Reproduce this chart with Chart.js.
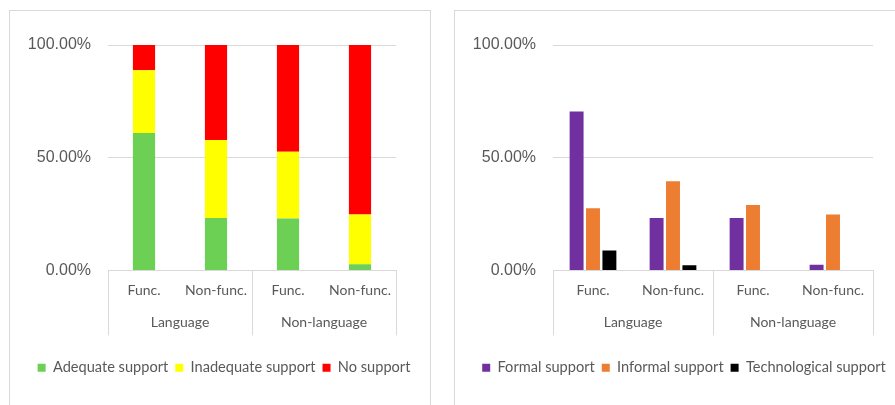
<!DOCTYPE html>
<html>
<head>
<meta charset="utf-8">
<script src="https://cdn.jsdelivr.net/npm/chart.js@4.4.1/dist/chart.umd.min.js"></script>
<style>
  html, body { margin: 0; padding: 0; background: #fff; width: 895px; height: 405px; overflow: hidden; }
  .box { position: absolute; top: 10px; height: 400px; border: 1px solid #d9d9d9; box-sizing: border-box; }
  .box canvas { position: absolute; left: 0; top: 0; }
</style>
</head>
<body>
<div class="box" style="left:9px; width:422px;"><canvas id="left" width="428" height="394"></canvas></div>
<div class="box" style="left:454px; width:460px;"><canvas id="right" width="458" height="394"></canvas></div>
<script>
// categories
const subLabels = ['Func.', 'Non-func.', 'Func.', 'Non-func.'];
const groupLabels = ['Language', 'Non-language'];
const yTicks = [0, 50, 100];

// left chart (stacked, %)
const adequate = [61.0, 23.3, 23.0, 2.7];
const inadequate = [27.8, 34.5, 29.6, 22.1];
const noSupport = [11.2, 42.2, 47.4, 75.2];

// right chart (clustered, %)
const formal = [70.5, 23.2, 23.2, 2.5];
const informal = [27.6, 39.5, 29.0, 24.8];
const technological = [8.8, 2.3, 0, 0];

const gridCol = '#d9d9d9';
const textCol = '#595959';
const catFont = { family: 'Lato', size: 14 };

function makeChart(id, datasets, stacked, rightWidth) {
  new Chart(document.getElementById(id), {
    type: 'bar',
    data: { labels: subLabels, datasets: datasets },
    options: {
      responsive: false,
      animation: false,
      layout: { padding: { left: 0, right: 0, top: 34, bottom: 20 } },
      plugins: {
        tooltip: { enabled: false },
        legend: {
          position: 'bottom',
          labels: { boxWidth: 8, boxHeight: 8, padding: 7, color: textCol, font: { family: 'Lato', size: 14.6 } }
        }
      },
      scales: {
        x: {
          stacked: stacked,
          offset: true,
          weight: 0,
          border: { display: true, color: gridCol },
          grid: {
            offset: true,
            drawOnChartArea: false,
            tickLength: 65,
            color: c => (c.index === 1 || c.index === 3) ? 'rgba(0,0,0,0)' : gridCol
          },
          ticks: { padding: -53, color: textCol, font: catFont, maxRotation: 0 },
          afterFit: s => { s.height = 32; }
        },
        x2: {
          type: 'category',
          axis: 'x',
          position: 'bottom',
          labels: groupLabels,
          offset: true,
          weight: 1,
          border: { display: false },
          grid: { display: false },
          ticks: { padding: 4, color: textCol, font: catFont, maxRotation: 0 },
          afterFit: s => { s.height = 51; }
        },
        y: {
          stacked: stacked,
          min: 0,
          max: 100,
          border: { display: false },
          grid: { color: gridCol, drawTicks: false },
          afterBuildTicks: s => { s.ticks = yTicks.map(v => ({ value: v })); },
          ticks: {
            padding: 17,
            color: textCol,
            font: { family: 'Liberation Sans', size: 16 },
            callback: v => v.toFixed(2) + '%'
          },
          afterFit: s => { s.width = 98; }
        },
        // empty axis that only reserves the right margin
        yRight: {
          type: 'linear',
          axis: 'y',
          position: 'right',
          border: { display: false },
          grid: { display: false },
          ticks: { display: false },
          afterFit: s => { s.width = rightWidth; }
        }
      }
    }
  });
}

makeChart('left', [
  { label: 'Adequate support', data: adequate, backgroundColor: '#6cd054', barPercentage: 0.385, categoryPercentage: 0.8 },
  { label: 'Inadequate support', data: inadequate, backgroundColor: '#ffff00', barPercentage: 0.385, categoryPercentage: 0.8 },
  { label: 'No support', data: noSupport, backgroundColor: '#ff0000', barPercentage: 0.385, categoryPercentage: 0.8 }
], true, 42);

makeChart('right', [
  { label: 'Formal support', data: formal, backgroundColor: '#7030a0', barPercentage: 0.85, categoryPercentage: 0.615 },
  { label: 'Informal support', data: informal, backgroundColor: '#ed7d31', barPercentage: 0.85, categoryPercentage: 0.615 },
  { label: 'Technological support', data: technological, backgroundColor: '#000000', barPercentage: 0.85, categoryPercentage: 0.615 }
], false, 40);
</script>
</body>
</html>
